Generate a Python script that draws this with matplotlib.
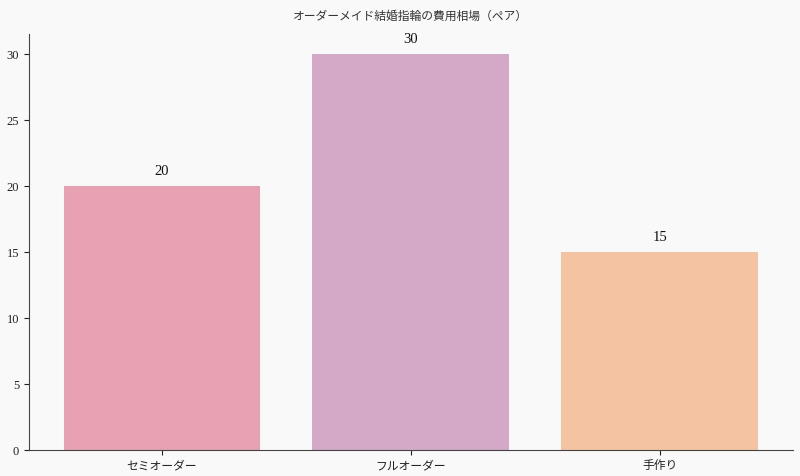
import matplotlib
matplotlib.use("Agg")
import matplotlib.pyplot as plt

plt.rcParams['font.family'] = ['Liberation Serif', 'Noto Sans CJK JP', 'DejaVu Sans']

categories = ['セミオーダー', 'フルオーダー', '手作り']
values = [20, 30, 15]
colors = ['#e8a1b3', '#d4a9c8', '#f4c4a2']

fig = plt.figure(figsize=(8, 4.77), dpi=100)
fig.patch.set_facecolor('#f9f9f9')
ax = fig.add_axes([0.036, 0.055, 0.955, 0.872])
ax.set_facecolor('#f9f9f9')

bars = ax.bar(categories, values, width=0.79, color=colors)
for b, v in zip(bars, values):
    ax.annotate(str(v), (b.get_x() + b.get_width() / 2, v), xytext=(0, 6),
                textcoords='offset points', ha='center', va='bottom',
                fontsize=10.5, color='#111111')

ax.set_title('オーダーメイド結婚指輪の費用相場（ペア）', fontsize=8.5, color='#333333', pad=11)
ax.set_yticks([0, 5, 10, 15, 20, 25, 30])
ax.tick_params(axis='y', labelsize=9, colors='#222222')
ax.tick_params(axis='x', labelsize=8.5, colors='#222222')
for s in ['top', 'right']:
    ax.spines[s].set_visible(False)
for s in ['left', 'bottom']:
    ax.spines[s].set_color('#444444')

fig.savefig('out.png', dpi=100, facecolor=fig.get_facecolor())
